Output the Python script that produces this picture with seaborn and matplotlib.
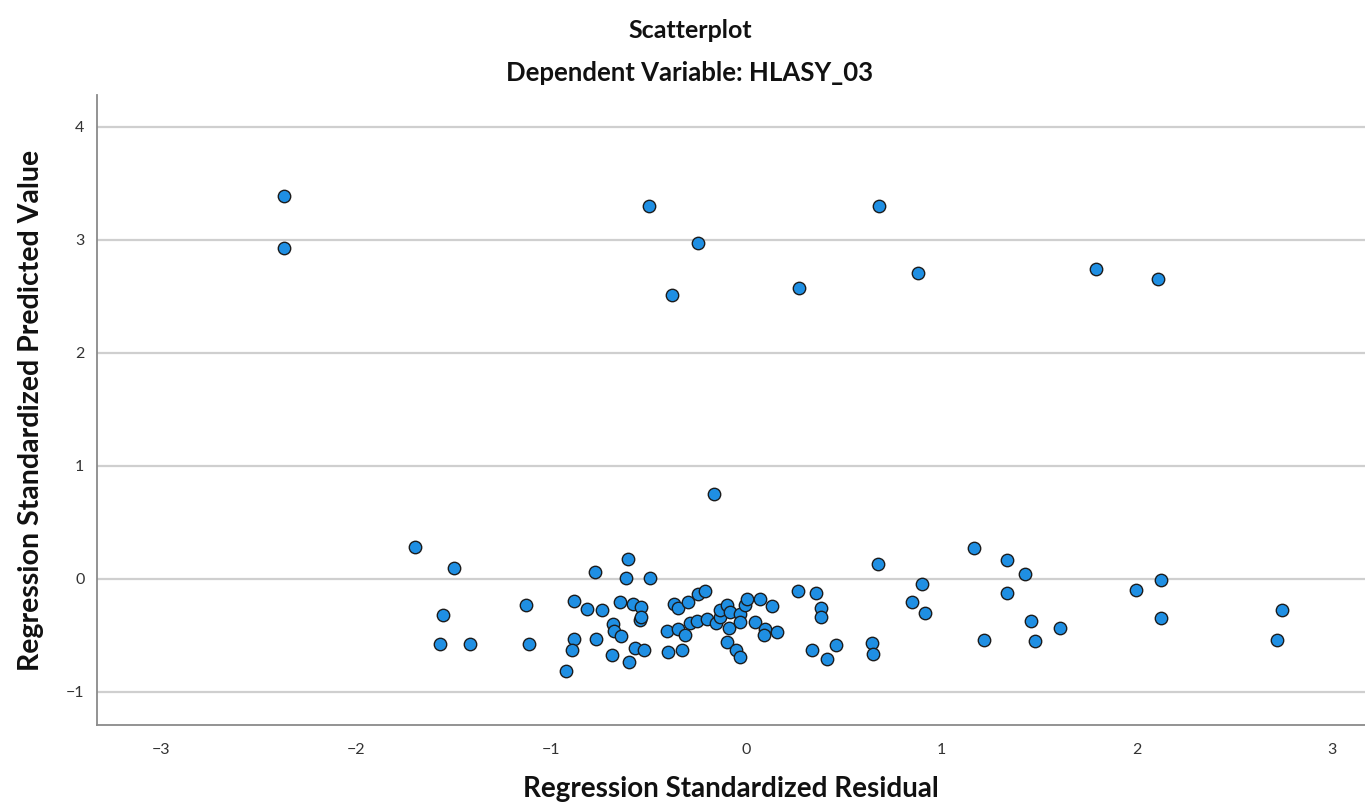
import matplotlib
matplotlib.use("Agg")
import matplotlib.pyplot as plt
import seaborn as sns
import pandas as pd

# Regression standardized residual (x) and predicted value (y)
residual = [
    -2.37, -2.37, -0.50, -0.25, -0.38, 0.27, 0.68, 0.88, 1.79, 2.11,
    -0.165, -1.70, -1.50, -1.554, -1.571, -1.419, -1.131, -1.113, -0.882, -0.818,
    -0.740, -0.885, -0.894, -0.928, -0.770, -0.779, -0.686, -0.681, -0.642, -0.688,
    -0.650, -0.607, -0.619, -0.496, -0.602, -0.582, -0.539, -0.547, -0.539, -0.573,
    -0.525, -0.371, -0.353, -0.302, -0.250, -0.213, -0.410, -0.350, -0.316, -0.290,
    -0.256, -0.204, -0.156, -0.135, -0.135, -0.101, -0.084, -0.089, -0.036, -0.032,
    -0.010, 0.000, 0.070, 0.045, 0.093, 0.087, -0.405, -0.333, -0.101, -0.053,
    -0.036, 0.130, 0.156, 0.264, 0.357, 0.379, 0.379, 0.336, 0.413, 0.456,
    0.676, 0.645, 0.650, 0.897, 0.846, 0.915, 1.168, 1.215, 1.335, 1.429,
    1.335, 1.460, 1.477, 1.609, 1.995, 2.126, 2.126, 2.743, 2.721,
]
predicted = [
    3.39, 2.93, 3.30, 2.97, 2.51, 2.57, 3.30, 2.71, 2.74, 2.65,
    0.748, 0.28, 0.096, -0.317, -0.58, -0.58, -0.23, -0.577, -0.199, -0.27,
    -0.279, -0.533, -0.627, -0.816, -0.529, 0.058, -0.403, -0.465, -0.509, -0.674,
    -0.205, 0.18, 0.007, 0.007, -0.736, -0.22, -0.25, -0.367, -0.338, -0.612,
    -0.633, -0.22, -0.26, -0.205, -0.13, -0.108, -0.462, -0.44, -0.50, -0.391,
    -0.376, -0.358, -0.391, -0.338, -0.273, -0.235, -0.294, -0.435, -0.308, -0.382,
    -0.228, -0.175, -0.175, -0.382, -0.44, -0.50, -0.648, -0.633, -0.559, -0.633,
    -0.692, -0.243, -0.47, -0.108, -0.126, -0.255, -0.338, -0.627, -0.712, -0.582,
    0.134, -0.565, -0.662, -0.049, -0.205, -0.302, 0.273, -0.544, 0.17, 0.046,
    -0.126, -0.376, -0.553, -0.435, -0.096, -0.007, -0.347, -0.273, -0.544,
]
x_ticks = [-3, -2, -1, 0, 1, 2, 3]
y_ticks = [-1, 0, 1, 2, 3, 4]

df = pd.DataFrame({"Residual": residual, "Predicted": predicted})

sns.set_theme(style="white")
plt.rcParams["font.family"] = ["Lato", "DejaVu Sans"]

fig = plt.figure(figsize=(13.65, 8.06), dpi=100)
ax = fig.add_axes([0.071, 0.100, 0.929, 0.782])

for yt in y_ticks:
    ax.axhline(yt, color="#cfcfcf", linewidth=1.6, zorder=0)

sns.scatterplot(data=df, x="Residual", y="Predicted", ax=ax,
                color="#1f8fe3", edgecolor="#1c1c1c", linewidth=1.0,
                s=80, zorder=3, legend=False)

ax.set_xlim(-3.33, 3.17)
ax.set_ylim(-1.296, 4.28)
ax.set_xticks(x_ticks)
ax.set_yticks(y_ticks)
ax.set_xticklabels([str(t).replace("-", "\u2212") for t in x_ticks])
ax.set_yticklabels([str(t).replace("-", "\u2212") for t in y_ticks])
ax.tick_params(axis="both", length=0, labelsize=11.5, colors="#333333")
ax.tick_params(axis="x", pad=13)
ax.tick_params(axis="y", pad=9)

for side in ["top", "right"]:
    ax.spines[side].set_visible(False)
for side in ["left", "bottom"]:
    ax.spines[side].set_color("#8a8a8a")
    ax.spines[side].set_linewidth(1.3)

ax.set_xlabel("Regression Standardized Residual", fontsize=20, fontweight="bold",
              color="#111111", labelpad=13)
ax.set_ylabel("Regression Standardized Predicted Value", fontsize=20.5, fontweight="bold",
              color="#111111", labelpad=16)

fig.text(0.506, 0.962, "Scatterplot", ha="center", va="center",
         fontsize=18, fontweight="bold", color="#111111")
fig.text(0.505, 0.910, "Dependent Variable: HLASY_03", ha="center", va="center",
         fontsize=18.5, fontweight="bold", color="#111111")

fig.savefig("out.png", dpi=100)
